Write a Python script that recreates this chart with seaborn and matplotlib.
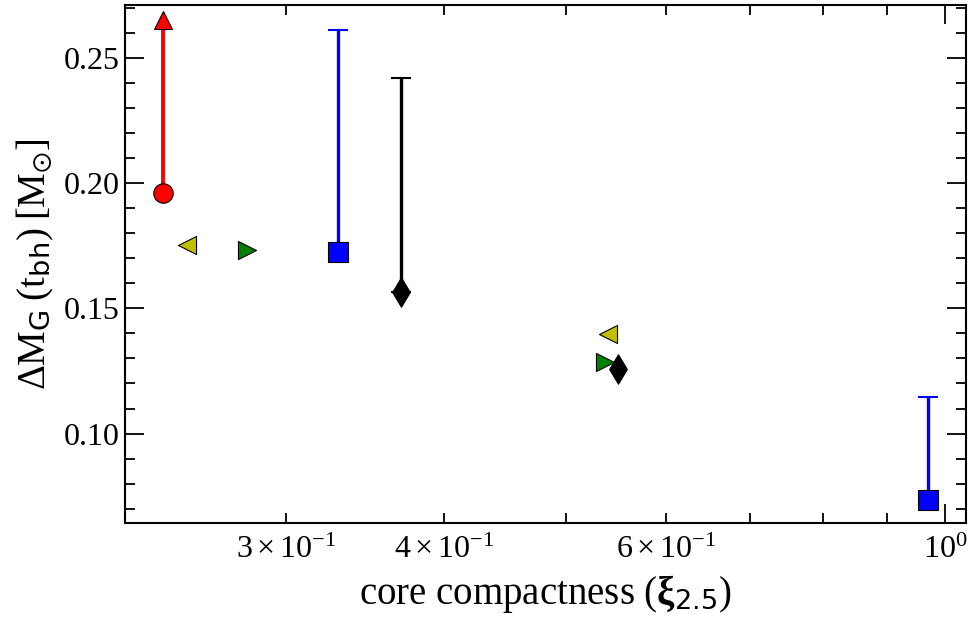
import numpy as np
import pandas as pd
import matplotlib
matplotlib.use("Agg")
import matplotlib.pyplot as plt
from matplotlib.ticker import MultipleLocator
import seaborn as sns

# ---- data ----
models = ["red", "yellow", "green", "blue", "black", "yellow", "green", "black", "blue"]
xi25 = [0.2395, 0.2502, 0.2793, 0.3298, 0.370, 0.540, 0.537, 0.550, 0.969]
dMG = [0.1959, 0.1754, 0.1731, 0.1724, 0.1567, 0.1398, 0.1284, 0.1259, 0.0735]

# upper extents (error bars / lower-limit arrow)
err_x = [0.3298, 0.370, 0.969]
err_y = [0.1724, 0.1567, 0.0735]
err_top = [0.2611, 0.2419, 0.1147]
err_col = ["#0000ff", "#000000", "#0000ff"]

arrow_x = 0.2395
arrow_y = 0.1959
arrow_top = 0.2651

colors = {"red": "#ff0000", "yellow": "#bfbf00", "green": "#008000",
          "blue": "#0000ff", "black": "#000000"}
markers = {"red": "o", "yellow": "<", "green": ">", "blue": "s", "black": "d"}
sizes = {"red": 14, "yellow": 13, "green": 13, "blue": 14, "black": 15}

df = pd.DataFrame({"xi": xi25, "dm": dMG, "model": models})

sns.set_style("ticks")
plt.rcParams["font.family"] = ["Liberation Serif", "DejaVu Serif"]
plt.rcParams["mathtext.fontset"] = "custom"
plt.rcParams["mathtext.rm"] = "Liberation Serif"
plt.rcParams["mathtext.it"] = "Liberation Serif:italic"
plt.rcParams["mathtext.bf"] = "Liberation Serif:bold"
plt.rcParams["mathtext.sf"] = "DejaVu Sans"
plt.rcParams["mathtext.fallback"] = "stix"
for k in ["text.color", "axes.labelcolor", "xtick.color", "ytick.color", "axes.edgecolor"]:
    plt.rcParams[k] = "black"

fig = plt.figure(figsize=(9.71, 6.26), dpi=100)
ax = fig.add_axes([0.1287, 0.1645, 0.8662, 0.8275])

# error bars (upper only)
for x, y, t, c in zip(err_x, err_y, err_top, err_col):
    ax.errorbar([x], [y], yerr=[[0], [t - y]], fmt="none", ecolor=c,
                elinewidth=2.4, capsize=7, capthick=1.5, zorder=2)

# red arrow
ax.plot([arrow_x, arrow_x], [arrow_y, arrow_top - 0.004], color="#ff0000", lw=2.8, zorder=2)
ax.plot([arrow_x], [arrow_top], marker="^", ms=13, color="#ff0000",
        markeredgecolor="black", markeredgewidth=0.8, zorder=3)

# markers through seaborn
for m in ["red", "yellow", "green", "blue", "black"]:
    sub = df[df["model"] == m]
    sns.scatterplot(data=sub, x="xi", y="dm", ax=ax, color=colors[m],
                    marker=markers[m], s=sizes[m] ** 2, edgecolor="black",
                    linewidth=0.8, zorder=4, legend=False)

ax.set_xscale("log")
ax.set_xlim(0.2234, 1.039)
ax.set_ylim(0.0643, 0.2711)
ax.yaxis.set_major_locator(MultipleLocator(0.05))
ax.yaxis.set_minor_locator(MultipleLocator(0.01))
ax.yaxis.set_major_formatter(matplotlib.ticker.FormatStrFormatter("%.2f"))

ax.tick_params(which="both", direction="in", top=True, right=True,
               labelsize=23, width=1.3)
ax.tick_params(which="major", length=14)
ax.tick_params(which="minor", length=7)
ax.tick_params(axis="x", which="both", pad=9)
for s in ax.spines.values():
    s.set_linewidth(1.5)

ax.set_xlabel(r"core compactness ($\mathbf{\xi}_{\mathsf{2.5}}$)", fontsize=28, labelpad=6)
ax.set_ylabel(r"$\Delta\mathrm{M}_{\mathsf{G}}\;(\mathrm{t}_{\mathsf{bh}})\;[\mathrm{M}_{\odot}]$",
              fontsize=28, labelpad=6)

fig.savefig("out.png", dpi=100)
